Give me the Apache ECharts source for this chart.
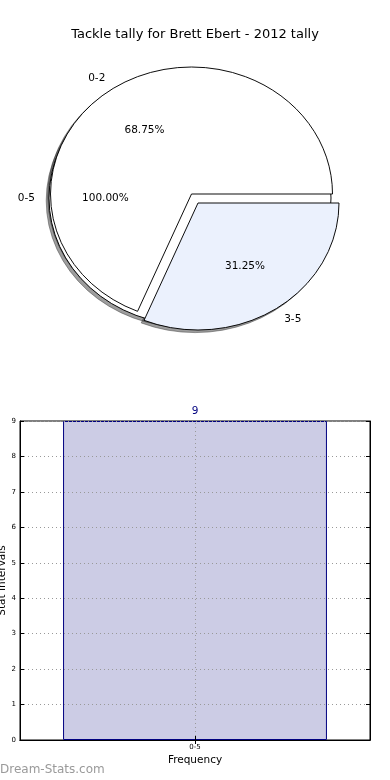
<!DOCTYPE html>
<html><head><meta charset="utf-8">
<script src="https://cdn.jsdelivr.net/npm/echarts@6/dist/echarts.min.js"></script>
<style>html,body{margin:0;padding:0;background:#fff}#c{width:390px;height:780px}</style>
</head><body><div id="c"></div>
<script>
// ---- data ----
const titleText = 'Tackle tally for Brett Ebert - 2012 tally';
const outerPieLabels = ['0-5'];
const outerPieValues = [9];
const innerPieLabels = ['0-2', '3-5'];
const innerPieValues = [11, 5];
const barCategories = ['0-5'];
const barValues = [9];
const yTickMin = 0, yTickMax = 9, yTickStep = 1;

// ---- layout / style ----
const FONT = '"DejaVu Sans", sans-serif';
const RX = 141, RY = 127;
const SHX = -2.8, SHY = 2.6;
const sliceCenters = [[190, 198], [191.5, 194], [198, 203]];
const sliceColors = ['#ffffff', '#ffffff', '#ebf1fd'];

// build slice fractions from the arrays
const slices = [];
function addPie(labels, values) {
  const total = values.reduce((a, b) => a + b, 0);
  let acc = 0;
  labels.forEach((n, i) => {
    slices.push({ name: n, value: values[i], f0: acc / total, f1: (acc + values[i]) / total, pct: values[i] / total * 100 });
    acc += values[i];
  });
}
addPie(outerPieLabels, outerPieValues);
addPie(innerPieLabels, innerPieValues);

const chart = echarts.init(document.getElementById('c'), null, { renderer: 'canvas' });
chart.setOption({
  animation: false,
  backgroundColor: '#fff',
  textStyle: { fontFamily: FONT },
  title: {
    text: titleText, left: 'center', top: 23,
    textStyle: { fontSize: 13, fontWeight: 'normal', color: '#000', fontFamily: FONT }
  },
  graphic: [{
    type: 'text', left: 0, top: 764,
    style: { text: 'Dream-Stats.com', fill: '#9a9a9a', font: '12px ' + FONT }
  }],
  grid: { left: 20, right: 20, top: 421, bottom: 40, show: true, borderColor: '#000', borderWidth: 1, containLabel: false, outerBoundsMode: 'none' },
  xAxis: [{
    type: 'category', data: barCategories, z: 5,
    axisLine: { show: true, lineStyle: { color: '#000' } },
    axisTick: { show: true, inside: true, alignWithLabel: true, length: 4, lineStyle: { color: '#000' } },
    axisLabel: { fontSize: 7, color: '#000', margin: 4, fontFamily: FONT },
    splitLine: { show: false },
    name: 'Frequency', nameLocation: 'middle', nameGap: 15, nameMoveOverlap: false,
    nameTextStyle: { fontSize: 10.5, color: '#000', fontFamily: FONT }
  }, {
    type: 'category', data: barCategories, position: 'top', z: 5,
    axisLine: { show: true, lineStyle: { color: '#000' } },
    axisTick: { show: true, inside: true, alignWithLabel: true, length: 4, lineStyle: { color: '#000' } },
    axisLabel: { show: false }, splitLine: { show: false }
  }],
  yAxis: [{
    type: 'value', min: yTickMin, max: yTickMax, interval: yTickStep, z: 5,
    axisLine: { show: true, lineStyle: { color: '#000' } },
    axisTick: { show: true, inside: true, length: 4, lineStyle: { color: '#000' } },
    axisLabel: { fontSize: 7, color: '#000', margin: 4, fontFamily: FONT },
    splitLine: { show: true, lineStyle: { type: [1, 3], color: '#999', width: 1 } },
    name: 'Stat Intervals', nameLocation: 'middle', nameGap: 12, nameMoveOverlap: false,
    nameTextStyle: { fontSize: 10.5, color: '#000', fontFamily: FONT }
  }, {
    type: 'value', min: yTickMin, max: yTickMax, interval: yTickStep, position: 'right', z: 5,
    axisLine: { show: true, lineStyle: { color: '#000' } },
    axisTick: { show: true, inside: true, length: 4, lineStyle: { color: '#000' } },
    axisLabel: { show: false }, splitLine: { show: false }
  }],
  series: [{
    type: 'custom',
    coordinateSystem: 'none',
    silent: true,
    data: slices.map(s => [s.value]),
    renderItem: function (params, api) {
      const idx = params.dataIndex;
      const s = slices[idx];
      const c = sliceCenters[idx];
      const a1 = s.f0 * 2 * Math.PI, a2 = s.f1 * 2 * Math.PI;
      const mid = (a1 + a2) / 2;
      const k = RY / RX;
      const cosm = Math.cos(mid), sinm = Math.sin(mid);
      const lx = c[0] + 1.1 * RX * cosm, ly = c[1] - 1.1 * RY * sinm;
      const px = c[0] + 0.6 * RX * cosm, py = c[1] - 0.6 * RY * sinm;
      return {
        type: 'group',
        children: [{
          type: 'sector', z2: 1,
          shape: { cx: c[0] + SHX, cy: c[1] + SHY, r0: 0, r: RX, startAngle: -a2, endAngle: -a1, clockwise: true },
          originX: c[0] + SHX, originY: c[1] + SHY, scaleY: k,
          style: { fill: 'rgba(60,60,60,0.5)', stroke: 'rgba(60,60,60,0.5)', lineWidth: 1, strokeNoScale: true }
        }, {
          type: 'sector', z2: 10 + idx,
          shape: { cx: c[0], cy: c[1], r0: 0, r: RX, startAngle: -a2, endAngle: -a1, clockwise: true },
          originX: c[0], originY: c[1], scaleY: k,
          style: { fill: sliceColors[idx], stroke: '#000', lineWidth: 1, strokeNoScale: true }
        }, {
          type: 'text', z2: 50, x: lx, y: ly,
          style: { text: s.name, fill: '#000', font: '10.5px ' + FONT, align: cosm < 0 ? 'right' : 'left', verticalAlign: 'middle' }
        }, {
          type: 'text', z2: 50, x: px, y: py,
          style: { text: s.pct.toFixed(2) + '%', fill: '#000', font: '10.5px ' + FONT, align: 'center', verticalAlign: 'middle' }
        }]
      };
    }
  }, {
    type: 'bar',
    xAxisIndex: 0, yAxisIndex: 0,
    data: barValues,
    barWidth: '75.4%',
    itemStyle: { color: '#cccce5', borderColor: '#000080', borderWidth: 1 },
    label: { show: true, position: 'top', distance: 4, color: '#000080', fontSize: 10.5, fontFamily: FONT },
    markLine: {
      silent: true, symbol: 'none', label: { show: false },
      lineStyle: { type: [1, 3], color: '#999', width: 1 },
      data: [{ xAxis: barCategories[0] }]
    }
  }]
});
</script></body></html>
